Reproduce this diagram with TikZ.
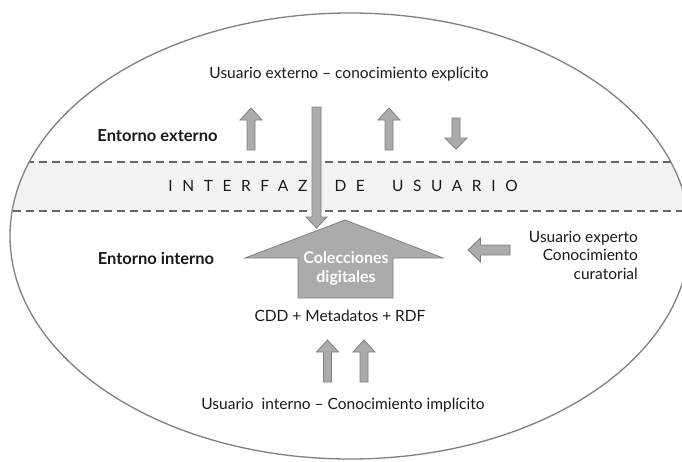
\documentclass[tikz,border=0pt]{standalone}
\usepackage{fontspec}
\setmainfont{Lato}
\definecolor{arrowfill}{HTML}{ABABAB}
\definecolor{arrowline}{HTML}{7F7F7F}
\definecolor{bandfill}{HTML}{F3F3F3}
\definecolor{dashcol}{HTML}{666666}
\definecolor{ellcol}{HTML}{808080}
\definecolor{txt}{HTML}{1A1A1A}
\tikzset{
  blockarr/.style={fill=arrowfill, draw=arrowline, line width=0.8pt, line join=miter},
  lbl/.style={font=\fontsize{15.5}{18.5}\selectfont, inner sep=0pt, text=txt},
  boldlbl/.style={font=\fontsize{16.5}{19}\selectfont\bfseries, inner sep=0pt, text=txt},
  whitelbl/.style={font=\fontsize{16}{19}\selectfont\bfseries, inner sep=0pt, text=white, align=center},
  bandline/.style={draw=dashcol, line width=1.4pt, dash pattern=on 8pt off 5pt},
  ellline/.style={draw=ellcol, line width=1.3pt}
}
% x, y of tip, length, rotation, head half width, head length, shaft half width
\newcommand\myblockarrow[7]{%
  \draw[blockarr, shift={(#1,#2)}, rotate=#4]
    (0,0) -- (#5,#6) -- (#7,#6) -- (#7,#3) -- (-#7,#3) -- (-#7,#6) -- (-#5,#6) -- cycle;}
\begin{document}
\begin{tikzpicture}[x=1pt,y=-1pt]
\useasboundingbox[fill=white] (0,0) rectangle (682,461);
% band
\begin{scope}
  \clip (350,236) ellipse [x radius=340pt, y radius=223pt];
  \fill[bandfill] (0,162) rectangle (682,211);
  \draw[bandline] (0,162) -- (682,162);
  \draw[bandline] (0,211) -- (682,211);
\end{scope}
\draw[ellline] (350,236) ellipse [x radius=340pt, y radius=223pt];
% texts
\node[lbl] (ext) at (349,74) {Usuario externo – conocimiento explícito};
\node[boldlbl] (entext) at (157.5,136) {Entorno externo};
\node[lbl, font=\fontsize{15.5}{18}\selectfont\addfontfeature{LetterSpace=62}] (interfaz) at (343,186) {INTERFAZ\ \ DE\ \ USUARIO};
\node[boldlbl] (entint) at (156,258) {Entorno interno};
% big arrow
\draw[blockarr] (345,220) -- (443,258) -- (393,258) -- (393,298) -- (298,298) -- (298,258) -- (245,258) -- cycle;
\node[whitelbl] (colecciones) at (346,268) {Colecciones\\digitales};
\node[lbl] (cdd) at (340,316) {CDD + Metadatos + RDF};
\node[lbl, align=right, anchor=east] (experto) at (638,255) {Usuario experto\\Conocimiento\\curatorial};
\node[lbl] (interno) at (343,405) {Usuario\ \ interno – Conocimiento implícito};
% small arrows
\myblockarrow{251}{108}{42}{0}{11}{12}{4}
\myblockarrow{389}{108}{42}{0}{11}{12}{4}
\myblockarrow{456}{149}{31}{180}{11}{11}{4}
\myblockarrow{316.5}{228}{121}{180}{10.5}{11}{4.5}
\myblockarrow{327.5}{340}{42}{0}{11}{12}{4}
\myblockarrow{364}{340}{42}{0}{11}{12}{4}
\myblockarrow{468}{250}{42}{90}{12}{12.5}{5}
\end{tikzpicture}
\end{document}
